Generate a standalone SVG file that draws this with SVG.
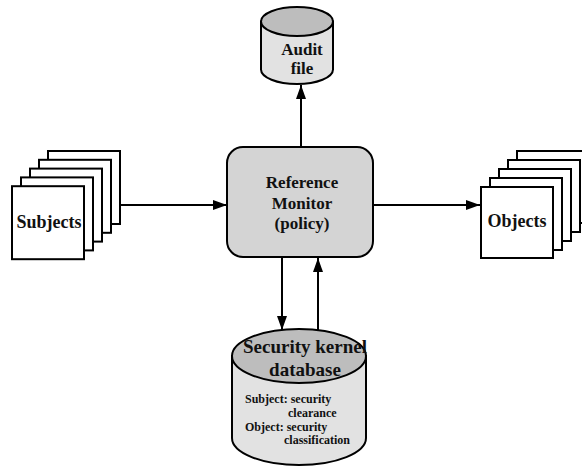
<svg xmlns="http://www.w3.org/2000/svg" width="582" height="466" viewBox="0 0 582 466">
<style>
.box{fill:#fff;stroke:#000;stroke-width:2}
.mon{fill:#d4d4d4;stroke:#000;stroke-width:2}
.cylb{fill:#e2e2e2;stroke:#000;stroke-width:2}
.cylt{fill:#bdbdbd;stroke:#000;stroke-width:2}
text{font-family:'Liberation Serif','DejaVu Serif','Times New Roman',serif;font-weight:bold;fill:#111}
.lg{font-size:17px;text-anchor:middle}
.sm{font-size:12px}
.ln{stroke:#000;stroke-width:2;fill:none}
</style>
<defs>
<marker id="ah" markerUnits="userSpaceOnUse" markerWidth="14" markerHeight="10" refX="14" refY="5" orient="auto">
<path d="M0,0 L14,5 L0,10 Z" fill="#000"/>
</marker>
</defs>
<g id="connectors">
<line class="ln" x1="120" y1="205" x2="227" y2="205" marker-end="url(#ah)"/>
<line class="ln" x1="373" y1="205" x2="480" y2="205" marker-end="url(#ah)"/>
<line class="ln" x1="301" y1="147" x2="301" y2="85" marker-end="url(#ah)"/>
<line class="ln" x1="282" y1="257" x2="282" y2="330" marker-end="url(#ah)"/>
<line class="ln" x1="318" y1="330" x2="318" y2="258" marker-end="url(#ah)"/>
</g>
<g id="subjects">
<rect class="box" x="48" y="151" width="72" height="73"/>
<rect class="box" x="39" y="159.8" width="72" height="73"/>
<rect class="box" x="30" y="168.6" width="72" height="73"/>
<rect class="box" x="21" y="177.4" width="72" height="73"/>
<rect class="box" x="12" y="186.2" width="72" height="73"/>
<text x="49" y="228" font-size="18" text-anchor="middle">Subjects</text>
</g>
<g id="objects">
<rect class="box" x="517" y="151" width="72" height="72"/>
<rect class="box" x="508" y="160" width="72" height="72"/>
<rect class="box" x="499" y="169" width="72" height="72"/>
<rect class="box" x="490" y="178" width="72" height="72"/>
<rect class="box" x="481" y="187" width="72" height="71"/>
<text x="517" y="227" font-size="18" text-anchor="middle">Objects</text>
</g>
<g id="monitor">
<rect class="mon" x="227" y="147" width="146" height="110" rx="16"/>
<text class="lg" x="302" y="188">Reference</text>
<text class="lg" x="302" y="209">Monitor</text>
<text class="lg" x="302" y="229">(policy)</text>
</g>
<g id="audit">
<path class="cylb" d="M261,21.5 L261,69.5 A36,14.5 0 0 0 333,69.5 L333,21.5 Z"/>
<ellipse class="cylt" cx="297" cy="21.5" rx="36" ry="14.5"/>
<text class="lg" x="302" y="55">Audit</text>
<text class="lg" x="302" y="74">file</text>
</g>
<g id="kernel">
<path class="cylb" d="M232,356 L232,438 A67,27 0 0 0 366,438 L366,356 Z"/>
<ellipse class="cylt" cx="299" cy="356" rx="67" ry="27"/>
<text x="305" y="353" font-size="19" text-anchor="middle">Security kernel</text>
<text x="305" y="376" font-size="19" text-anchor="middle">database</text>
<text class="sm" x="245" y="403">Subject: security</text>
<text class="sm" x="288" y="417">clearance</text>
<text class="sm" x="245" y="431">Object: security</text>
<text class="sm" x="284" y="444">classification</text>
</g>
</svg>
